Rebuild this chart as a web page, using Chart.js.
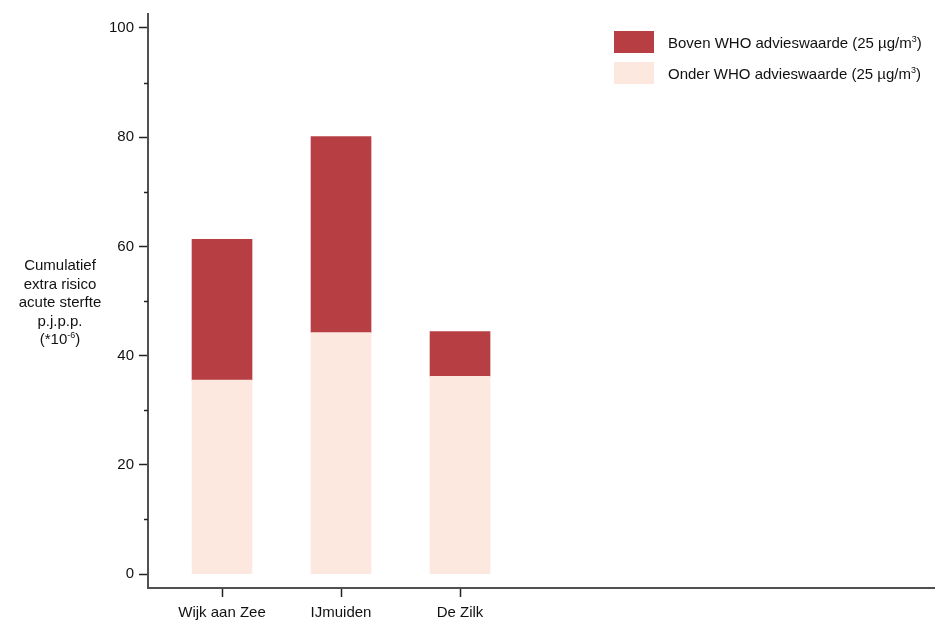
<!DOCTYPE html>
<html>
<head>
<meta charset="utf-8">
<script src="https://cdn.jsdelivr.net/npm/chart.js@4"></script>
<style>
  body { margin: 0; background: #fff; font-family: "Liberation Sans", Arial, sans-serif; }
  #wrap { position: relative; width: 937px; height: 621px; }
  #yTitle { position: absolute; left: 0; width: 120px; top: 256px; text-align: center; font-size: 15px; line-height: 18.5px; color: #111; }
  #yTitle sup { font-size: 9px; line-height: 0; }
  #legend { position: absolute; left: 614px; top: 31px; font-size: 15px; color: #111; white-space: nowrap; }
  .item { display: flex; align-items: center; height: 22px; margin-bottom: 9px; }
  .box { width: 40px; height: 22px; margin-right: 14px; }
  .item sup { font-size: 9px; line-height: 0; }
</style>
</head>
<body>
<div id="wrap">
  <canvas id="chart" width="937" height="621"></canvas>
  <div id="yTitle">Cumulatief<br>extra risico<br>acute sterfte<br>p.j.p.p.<br>(*10<sup>-6</sup>)</div>
  <div id="legend"></div>
</div>
<script>
// Data
const categories = ['Wijk aan Zee', 'IJmuiden', 'De Zilk'];
const onderWHO = [35.5, 44.2, 36.2];
const bovenWHO = [25.8, 35.9, 8.2];
const yTicks = [0, 20, 40, 60, 80, 100];
const yMinorTicks = [10, 30, 50, 70, 90];

const colBoven = '#B73E43';
const colOnder = '#FDE8E0';

// legend in html so the m3 superscript stays real text
const legendItems = [
    { label: 'Boven WHO advieswaarde (25 µg/m<sup>3</sup>)', color: colBoven },
    { label: 'Onder WHO advieswaarde (25 µg/m<sup>3</sup>)', color: colOnder }
];
document.getElementById('legend').innerHTML = legendItems.map(it =>
    `<div class="item"><div class="box" style="background:${it.color}"></div><span>${it.label}</span></div>`
).join('');

const fontFamily = '"Liberation Sans", Arial, sans-serif';

// small unlabeled ticks between the labeled ones
const minorTicks = {
    id: 'minorTicks',
    afterDraw(chart) {
        const y = chart.scales.y;
        const c = chart.ctx;
        c.save();
        c.strokeStyle = '#222';
        c.lineWidth = 1.5;
        yMinorTicks.forEach(v => {
            const py = Math.round(y.getPixelForValue(v)) + 0.5;
            c.beginPath();
            c.moveTo(y.right - 4, py);
            c.lineTo(y.right, py);
            c.stroke();
        });
        c.restore();
    }
};

const ctx = document.getElementById('chart').getContext('2d');
new Chart(ctx, {
    type: 'bar',
    data: {
        datasets: [
            {
                label: 'Onder WHO advieswaarde',
                data: onderWHO.map((v, i) => ({ x: i + 1, y: v })),
                backgroundColor: colOnder,
                barThickness: 60
            },
            {
                label: 'Boven WHO advieswaarde',
                data: bovenWHO.map((v, i) => ({ x: i + 1, y: v })),
                backgroundColor: colBoven,
                barThickness: 60
            }
        ]
    },
    options: {
        responsive: false,
        animation: false,
        layout: { padding: { top: 12, right: 3, left: 0, bottom: 0 } },
        plugins: {
            legend: { display: false },
            tooltip: { enabled: false }
        },
        scales: {
            x: {
                type: 'linear',
                stacked: true,
                offset: false,
                min: 0.378,
                max: 6.983,
                afterBuildTicks: scale => { scale.ticks = categories.map((c, i) => ({ value: i + 1 })); },
                afterFit: scale => { scale.height = 33; },
                ticks: {
                    callback: v => categories[v - 1],
                    color: '#111',
                    padding: 7,
                    maxRotation: 0,
                    autoSkip: false,
                    font: { family: fontFamily, size: 15 }
                },
                grid: { offset: false, drawOnChartArea: false, drawTicks: true, tickLength: 9, tickColor: '#222', tickWidth: 1.5 },
                border: { display: true, color: '#505050', width: 2 }
            },
            y: {
                stacked: true,
                min: -2.55,
                max: 102.55,
                afterBuildTicks: scale => { scale.ticks = yTicks.map(v => ({ value: v })); },
                afterFit: scale => { scale.width = 148; },
                ticks: {
                    color: '#111',
                    padding: 5,
                    font: { family: fontFamily, size: 15 }
                },
                grid: { drawOnChartArea: false, drawTicks: true, tickLength: 9, tickColor: '#222', tickWidth: 1.5 },
                border: { display: true, color: '#505050', width: 2 }
            }
        }
    },
    plugins: [minorTicks]
});
</script>
</body>
</html>
